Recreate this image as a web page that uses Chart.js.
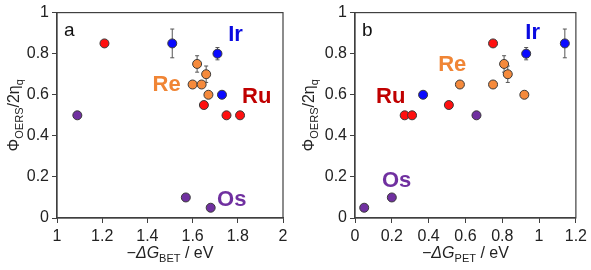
<!DOCTYPE html>
<html>
<head>
<meta charset="utf-8">
<script src="https://cdn.jsdelivr.net/npm/chart.js@4"></script>
<style>
    body { margin: 0; background: #fff; }
    #wrap { display: flex; width: 591px; height: 270px; }
    .box { position: relative; height: 270px; }
</style>
</head>
<body>
<div id="wrap">
    <div class="box" style="width:295px"><canvas id="chartBet"></canvas></div>
    <div class="box" style="width:296px"><canvas id="chartPet"></canvas></div>
</div>
<script>
// quantum yield values (shared by both panels)
let irPhi = [0.85, 0.80, 0.60];
let irErr = [0.07, 0.03, 0];
let rePhi = [0.75, 0.70, 0.65, 0.65, 0.60];
let reErr = [0.04, 0.04, 0, 0, 0];
let ruPhi = [0.85, 0.55, 0.50, 0.50];
let osPhi = [0.50, 0.10, 0.05];

// -dG BET (panel a)
let irBet = [1.51, 1.71, 1.73];
let reBet = [1.62, 1.66, 1.60, 1.64, 1.67];
let ruBet = [1.21, 1.65, 1.75, 1.81];
let osBet = [1.09, 1.57, 1.68];

// -dG PET (panel b)
let irPet = [1.14, 0.93, 0.37];
let rePet = [0.81, 0.83, 0.57, 0.75, 0.92];
let ruPet = [0.75, 0.51, 0.27, 0.31];
let osPet = [0.66, 0.20, 0.05];

let metals = ["Ir", "Re", "Ru", "Os"];
let yTicks = [0, 0.2, 0.4, 0.6, 0.8, 1];

var FONT = "'Liberation Sans', Arial, sans-serif";
var fill = { Ir: "#0a0aff", Re: "#f58a3c", Ru: "#ff1010", Os: "#7030a0" };
var textCol = { Ir: "#0a0ae0", Re: "#f08535", Ru: "#c00000", Os: "#7030a0" };

let pts = (xs, ys) => xs.map((x, i) => ({ x: x, y: ys[i] }));

// draw a string made of parts, some italic or subscript
let drawRich = (ctx, parts, x, y) => {
    var w = 0;
    parts.forEach((p) => {
        ctx.font = (p.it ? "italic " : "") + (p.sub ? "11px " : "16px ") + FONT;
        p.w = ctx.measureText(p.t).width;
        w += p.w;
    });
    var cx = x - w / 2;
    ctx.textAlign = "left";
    ctx.textBaseline = "alphabetic";
    parts.forEach((p) => {
        ctx.font = (p.it ? "italic " : "") + (p.sub ? "11px " : "16px ") + FONT;
        ctx.fillText(p.t, cx, y + (p.sub ? 4 : 0));
        cx += p.w;
    });
};

let extras = {
    id: "extras",
    beforeDatasetsDraw(chart) {
        var ctx = chart.ctx;
        var xs = chart.scales.x, ys = chart.scales.y;
        ctx.save();
        ctx.strokeStyle = "#555";
        ctx.lineWidth = 1;
        chart.data.datasets.forEach((ds) => {
            ds.err.forEach((e, i) => {
                if (!e) return;
                var px = xs.getPixelForValue(ds.data[i].x);
                var y1 = ys.getPixelForValue(ds.data[i].y + e);
                var y2 = ys.getPixelForValue(ds.data[i].y - e);
                ctx.beginPath();
                ctx.moveTo(px, y1); ctx.lineTo(px, y2);
                ctx.moveTo(px - 2, y1); ctx.lineTo(px + 2, y1);
                ctx.moveTo(px - 2, y2); ctx.lineTo(px + 2, y2);
                ctx.stroke();
            });
        });
        ctx.restore();
    },
    afterDraw(chart) {
        var ctx = chart.ctx, a = chart.chartArea;
        var opt = chart.options.plugins.extras;
        var xs = chart.scales.x, ys = chart.scales.y;
        ctx.save();
        ctx.strokeStyle = "#404040";
        ctx.lineWidth = 1.2;
        ctx.strokeRect(a.left, a.top, a.right - a.left, a.bottom - a.top);

        ctx.fillStyle = "#111";
        ctx.font = "19px " + FONT;
        ctx.textAlign = "left";
        ctx.textBaseline = "middle";
        ctx.fillText(opt.panel, a.left + 7, a.top + 18);

        ctx.textAlign = "center";
        ctx.font = "bold 22px " + FONT;
        metals.forEach((m) => {
            var p = opt.labels[m];
            ctx.fillStyle = textCol[m];
            ctx.fillText(m, xs.getPixelForValue(p[0]), ys.getPixelForValue(p[1]));
        });

        ctx.fillStyle = "#222";
        drawRich(ctx, opt.xTitle, (a.left + a.right) / 2, 258);
        ctx.translate(19, (a.top + a.bottom) / 2);
        ctx.rotate(-Math.PI / 2);
        drawRich(ctx, [{ t: "Φ" }, { t: "OERS", sub: true }, { t: "/2η" }, { t: "q", sub: true }], 0, 0);
        ctx.restore();
    },
};

let makeChart = (id, sets, xr, yWidth, rightPad, panel, xTitle, labels) => {
    var ctx = document.getElementById(id).getContext("2d");
    return new Chart(ctx, {
        type: "scatter",
        data: {
            datasets: metals.map((m) => ({
                label: m,
                data: sets[m].data,
                err: sets[m].err,
                backgroundColor: fill[m],
                borderColor: "#3a3a3a",
                borderWidth: 1,
                pointRadius: 4.5,
            })),
        },
        options: {
            responsive: true,
            maintainAspectRatio: false,
            animation: false,
            events: [],
            layout: { padding: { left: 0, right: rightPad, top: 8, bottom: 0 } },
            plugins: {
                legend: { display: false },
                tooltip: { enabled: false },
                extras: { panel: panel, xTitle: xTitle, labels: labels },
            },
            scales: {
                x: {
                    type: "linear",
                    min: xr[0],
                    max: xr[1],
                    afterFit: (s) => { s.height = 52; },
                    afterBuildTicks: (s) => { s.ticks = xr[2].map((v) => ({ value: v })); },
                    ticks: {
                        color: "#222",
                        padding: 4,
                        maxRotation: 0,
                        font: { family: FONT, size: 16 },
                        callback: (v) => String(+v.toFixed(1)),
                    },
                    grid: { drawOnChartArea: false, drawTicks: true, tickLength: 5, color: "#404040" },
                    border: { display: true, color: "#404040", width: 1.2 },
                },
                y: {
                    min: 0,
                    max: 1,
                    afterFit: (s) => { s.width = yWidth; },
                    afterBuildTicks: (s) => { s.ticks = yTicks.map((v) => ({ value: v })); },
                    ticks: {
                        color: "#222",
                        padding: 3,
                        font: { family: FONT, size: 16 },
                        callback: (v) => String(+v.toFixed(1)),
                    },
                    grid: { drawOnChartArea: false, drawTicks: true, tickLength: 5, color: "#404040" },
                    border: { display: true, color: "#404040", width: 1.2 },
                },
            },
        },
        plugins: [extras],
    });
};

makeChart(
    "chartBet",
    {
        Ir: { data: pts(irBet, irPhi), err: irErr },
        Re: { data: pts(reBet, rePhi), err: reErr },
        Ru: { data: pts(ruBet, ruPhi), err: [0, 0, 0, 0] },
        Os: { data: pts(osBet, osPhi), err: [0, 0, 0] },
    },
    [1, 2, [1, 1.2, 1.4, 1.6, 1.8, 2]],
    57, 12, "a",
    [{ t: "−Δ", it: true }, { t: "G", it: true }, { t: "BET", sub: true }, { t: " / eV" }],
    { Ir: [1.79, 0.892], Re: [1.485, 0.647], Ru: [1.884, 0.587], Os: [1.773, 0.087] }
);

makeChart(
    "chartPet",
    {
        Ir: { data: pts(irPet, irPhi), err: irErr },
        Re: { data: pts(rePet, rePhi), err: reErr },
        Ru: { data: pts(ruPet, ruPhi), err: [0, 0, 0, 0] },
        Os: { data: pts(osPet, osPhi), err: [0, 0, 0] },
    },
    [0, 1.2, [0, 0.2, 0.4, 0.6, 0.8, 1, 1.2]],
    60, 13, "b",
    [{ t: "−Δ", it: true }, { t: "G", it: true }, { t: "PET", sub: true }, { t: " / eV" }],
    { Ir: [0.965, 0.901], Re: [0.528, 0.744], Ru: [0.194, 0.587], Os: [0.226, 0.182] }
);
</script>
</body>
</html>
